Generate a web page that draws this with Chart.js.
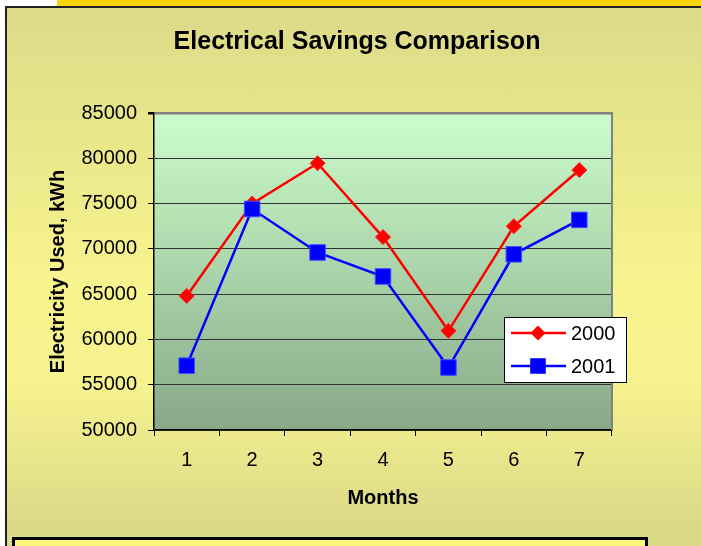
<!DOCTYPE html>
<html>
<head>
<meta charset="UTF-8">
<title>Electrical Savings Comparison</title>
<style>
    html, body { margin: 0; padding: 0; }
    body { width: 701px; height: 546px; overflow: hidden; position: relative; background: #ffffff; font-family: "Liberation Sans", Arial, sans-serif; }
    .top-bar { position: absolute; left: 57px; top: 0; width: 644px; height: 7px; background: #f8d40a; }
    .panel { position: absolute; left: 5px; top: 6px; width: 720px; height: 560px; border: 2px solid #222; box-sizing: border-box;
             background: linear-gradient(to bottom, #dcda88 0%, #e6e48a 18%, #f8f48e 50%, #f6f28e 68%, #dcda88 92%, #dcda88 100%); }
    .note-box { position: absolute; left: 12px; top: 537px; width: 636px; height: 30px; border: 3px solid #000; box-sizing: border-box; background: #fcf67a; }
    #grafico { position: absolute; left: 0; top: 0; }
</style>
</head>
<body>
<div class="top-bar"></div>
<div class="panel"></div>
<div class="note-box"></div>
<canvas id="grafico" width="701" height="546"></canvas>

<script src="https://cdn.jsdelivr.net/npm/chart.js"></script>
<script>
// dados
const meses = ['1', '2', '3', '4', '5', '6', '7'];
const consumo2000 = [64800, 75000, 79450, 71300, 60950, 72500, 78700];
const consumo2001 = [57100, 74400, 69600, 66950, 56900, 69400, 73200];
const eixoMin = 50000;
const eixoMax = 85000;
const eixoPasso = 5000;

const fonte = '"Liberation Sans", Arial, sans-serif';

// fundo da área do gráfico, borda cinza, título e legenda
const fundoPlugin = {
    id: 'fundoPlugin',
    beforeDraw(chart) {
        const { ctx, chartArea: { left, top, right, bottom } } = chart;
        const grad = ctx.createLinearGradient(0, top, 0, bottom);
        grad.addColorStop(0, '#ccfccc');
        grad.addColorStop(0.5, '#aad4aa');
        grad.addColorStop(1, '#88a888');
        ctx.save();
        ctx.fillStyle = grad;
        ctx.fillRect(left, top, right - left, bottom - top);

        ctx.fillStyle = '#000';
        ctx.font = 'bold 25px ' + fonte;
        ctx.textAlign = 'center';
        ctx.textBaseline = 'alphabetic';
        ctx.fillText('Electrical Savings Comparison', 357, 49);
        ctx.restore();
    },
    beforeDatasetsDraw(chart) {
        const { ctx, chartArea: { top, right, bottom } } = chart;
        ctx.save();
        ctx.strokeStyle = '#808080';
        ctx.lineWidth = 2;
        ctx.beginPath();
        ctx.moveTo(right, top - 1);
        ctx.lineTo(right, bottom);
        ctx.stroke();
        ctx.restore();
    },
    afterDraw(chart) {
        const ctx = chart.ctx;
        const x = 504.5, y = 317.5, w = 122, h = 65;
        ctx.save();
        ctx.fillStyle = '#fff';
        ctx.fillRect(x, y, w, h);
        ctx.strokeStyle = '#000';
        ctx.lineWidth = 1;
        ctx.strokeRect(x, y, w, h);

        chart.data.datasets.forEach((ds, i) => {
            const cy = 333 + i * 33;
            ctx.strokeStyle = ds.borderColor;
            ctx.lineWidth = 2.5;
            ctx.beginPath();
            ctx.moveTo(511, cy);
            ctx.lineTo(566, cy);
            ctx.stroke();

            ctx.fillStyle = ds.backgroundColor;
            const cx = 538;
            if (ds.pointStyle === 'rectRot') {
                const r = ds.pointRadius;
                ctx.beginPath();
                ctx.moveTo(cx, cy - r);
                ctx.lineTo(cx + r, cy);
                ctx.lineTo(cx, cy + r);
                ctx.lineTo(cx - r, cy);
                ctx.closePath();
                ctx.fill();
            } else {
                const s = ds.pointRadius * Math.SQRT1_2;
                ctx.fillRect(cx - s, cy - s, 2 * s, 2 * s);
            }

            ctx.fillStyle = '#000';
            ctx.font = '20px ' + fonte;
            ctx.textAlign = 'left';
            ctx.textBaseline = 'middle';
            ctx.fillText(ds.label, 571, cy + 1);
        });
        ctx.restore();
    }
};

const ctx = document.getElementById('grafico').getContext('2d');

new Chart(ctx, {
    type: 'line',
    data: {
        labels: meses,
        datasets: [
            {
                label: '2000',
                data: consumo2000,
                borderColor: '#ff0000',
                backgroundColor: '#ff0000',
                borderWidth: 2.5,
                pointStyle: 'rectRot',
                pointRadius: 7.5,
                pointBorderWidth: 1,
                pointBorderColor: '#ff2020',
                tension: 0,
                order: 1
            },
            {
                label: '2001',
                data: consumo2001,
                borderColor: '#0000ff',
                backgroundColor: '#0000ff',
                borderWidth: 2.5,
                pointStyle: 'rect',
                pointRadius: 11,
                pointBorderWidth: 1,
                pointBorderColor: '#3a50ff',
                tension: 0,
                order: 0
            }
        ]
    },
    options: {
        responsive: false,
        animation: false,
        devicePixelRatio: 1,
        layout: { padding: { left: 0, right: 89, top: 113, bottom: 0 } },
        plugins: {
            legend: { display: false },
            title: { display: false },
            tooltip: { enabled: false }
        },
        scales: {
            x: {
                offset: true,
                afterFit(scale) { scale.height = 116; },
                grid: { offset: true, drawOnChartArea: false, tickLength: 6, tickColor: '#000', tickWidth: 1 },
                border: { color: '#000', width: 1.5 },
                ticks: { color: '#000', padding: 12, font: { family: fonte, size: 20 } },
                title: {
                    display: true,
                    text: 'Months',
                    color: '#000',
                    font: { family: fonte, size: 20, weight: 'bold' },
                    padding: { top: 0, bottom: 36 }
                }
            },
            y: {
                min: eixoMin,
                max: eixoMax,
                afterFit(scale) { scale.width = 154; },
                grid: {
                    color: c => (c.tick && c.tick.value === eixoMax) ? '#808080' : '#333',
                    lineWidth: c => (c.tick && c.tick.value === eixoMax) ? 2.5 : 1,
                    tickLength: 6,
                    tickColor: '#000'
                },
                border: { color: '#000', width: 1.5 },
                ticks: {
                    stepSize: eixoPasso,
                    color: '#000',
                    padding: 11,
                    font: { family: fonte, size: 20 },
                    callback: v => String(v)
                },
                title: {
                    display: true,
                    text: 'Electricity Used, kWh',
                    color: '#000',
                    font: { family: fonte, size: 20, weight: 'bold' },
                    padding: { top: 46, bottom: 0 }
                }
            }
        }
    },
    plugins: [fundoPlugin]
});
</script>
</body>
</html>
